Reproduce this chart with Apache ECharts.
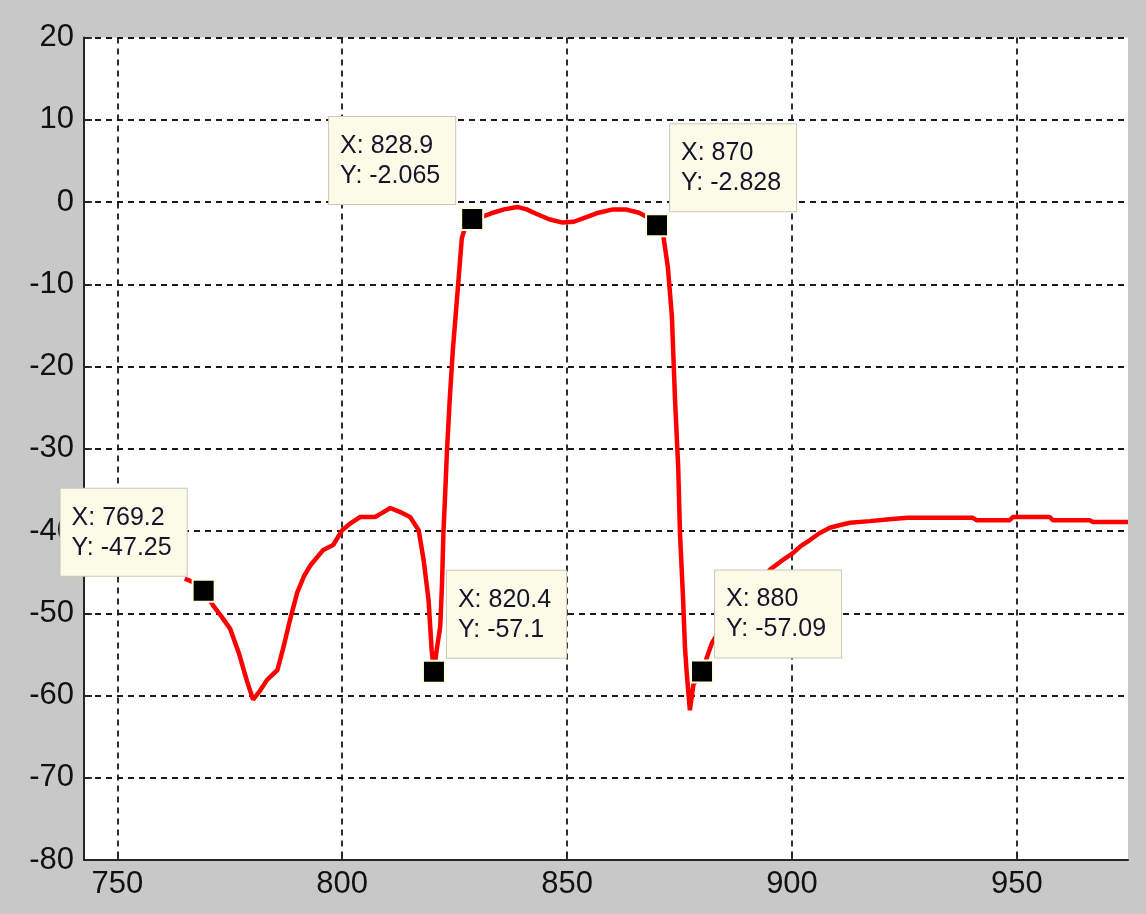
<!DOCTYPE html>
<html>
<head>
<meta charset="utf-8">
<script src="https://cdn.jsdelivr.net/npm/echarts@6/dist/echarts.min.js"></script>
<style>
html,body{margin:0;padding:0;background:#c8c8c8;}
#chart{width:1146px;height:914px;}
</style>
</head>
<body>
<div id="chart"></div>
<script>
// ---- data ----
const xs = [765.0, 767.3, 769.2, 771.5, 773.3, 775.1, 777.0, 778.8, 780.2, 781.5, 783.3, 785.6, 787.0, 788.4, 790.0, 791.5, 792.9, 795.8, 798.0, 800.0, 802.0, 804.0, 807.3, 808.9, 810.7, 812.9, 815.1, 817.0, 818.1, 819.2, 819.9, 820.4, 821.0, 821.8, 822.2, 822.5, 822.9, 823.3, 823.9, 824.6, 825.8, 826.6, 827.6, 828.9, 831.0, 833.0, 836.0, 838.9, 841.0, 843.0, 846.0, 849.0, 851.5, 854.0, 857.0, 860.2, 863.0, 866.0, 868.0, 870.0, 871.3, 872.4, 873.3, 874.0, 874.7, 875.1, 875.8, 876.2, 876.6, 877.3, 878.1, 879.1, 880.0, 881.0, 882.2, 883.0, 885.0, 888.0, 891.0, 893.0, 895.1, 897.5, 900.2, 902.0, 904.0, 906.0, 908.4, 910.5, 912.9, 917.3, 921.1, 925.6, 930.0, 935.0, 940.2, 941.1, 948.4, 949.1, 957.3, 958.0, 966.2, 966.9, 974.7];
const ys = [-45.8, -46.3, -47.25, -49.2, -50.5, -51.9, -54.8, -58.2, -60.5, -59.6, -58.1, -56.9, -54.0, -50.8, -47.5, -45.5, -44.2, -42.3, -41.7, -39.9, -39.0, -38.3, -38.3, -37.8, -37.2, -37.7, -38.3, -39.9, -43.5, -48.4, -54.5, -57.1, -54.5, -51.6, -46.3, -40.3, -35.4, -30.2, -24.1, -18.0, -9.9, -4.4, -2.6, -2.065, -1.8, -1.4, -0.9, -0.6, -0.9, -1.4, -2.1, -2.5, -2.4, -1.9, -1.3, -0.9, -0.9, -1.3, -1.9, -2.828, -3.8, -7.9, -13.9, -24.1, -32.2, -40.3, -48.4, -54.1, -57.3, -61.8, -58.6, -58.0, -57.09, -55.5, -53.6, -52.9, -51.5, -49.5, -47.3, -46.0, -44.7, -43.7, -42.7, -41.8, -41.1, -40.3, -39.6, -39.3, -39.0, -38.8, -38.6, -38.4, -38.4, -38.4, -38.4, -38.7, -38.7, -38.3, -38.3, -38.7, -38.7, -38.9, -38.9];

const tipX = [769.2, 828.9, 870, 820.4, 880];
const tipY = [-47.25, -2.065, -2.828, -57.1, -57.09];

const xTicks = [750, 800, 850, 900, 950];

// ---- layout/style (not data) ----
const tipSide = ['left', 'left', 'right', 'right', 'right'];
const X_MIN = 742.6, X_MAX = 974.7;
const TIP_FONT = 25, TIP_FAMILY = 'Liberation Sans, Arial, sans-serif';
const TIP_PAD = [14, 15, 13, 11];

const chart = echarts.init(document.getElementById('chart'));
const lineData = xs.map((x, i) => [x, ys[i]]);

const ctx = document.createElement('canvas').getContext('2d');
ctx.font = TIP_FONT + 'px ' + TIP_FAMILY;
function boxWidth(lines) {
  return Math.max.apply(null, lines.map(s => ctx.measureText(s).width)) + TIP_PAD[1] + TIP_PAD[3] + 2;
}

const gridLine = { show: true, lineStyle: { color: '#1a1a1a', width: 1.8, type: [6, 5] } };
const axisFont = { color: '#111', fontSize: 31, fontFamily: 'Liberation Sans, Arial, sans-serif' };

const markData = tipX.map((x, i) => {
  const left = tipSide[i] === 'left';
  const lines = ['X: ' + String(x), 'Y: ' + String(tipY[i])];
  const w = boxWidth(lines);
  return {
    coord: [x, tipY[i]],
    value: tipY[i],
    label: {
      show: true,
      formatter: lines.join('\n'),
      position: left ? [-3 - w, -3] : [25, -2],
      align: 'left',
      verticalAlign: 'bottom'
    }
  };
});

chart.setOption({
  backgroundColor: '#c8c8c8',
  animation: false,
  grid: { left: 84, right: 18, top: 37.5, bottom: 54, show: true, backgroundColor: '#ffffff', borderWidth: 0 },
  xAxis: {
    type: 'value', min: X_MIN, max: X_MAX,
    axisLine: { show: true, onZero: false, lineStyle: { color: '#262626', width: 2 } },
    axisTick: { show: true, inside: true, length: 8, customValues: xTicks, lineStyle: { color: '#262626', width: 1.8 } },
    axisLabel: Object.assign({ margin: 9, customValues: xTicks, formatter: v => String(v) }, axisFont),
    splitLine: gridLine
  },
  yAxis: {
    type: 'value', min: -80, max: 20, interval: 10,
    axisLine: { show: true, onZero: false, lineStyle: { color: '#262626', width: 2 } },
    axisTick: { show: true, inside: true, length: 8, lineStyle: { color: '#262626', width: 1.8 } },
    axisLabel: Object.assign({ margin: 10 }, axisFont),
    splitLine: gridLine
  },
  series: [{
    type: 'line',
    data: lineData,
    showSymbol: false,
    smooth: false,
    clip: true,
    lineStyle: { color: '#ff0000', width: 4.5 },
    z: 3,
    markPoint: {
      symbol: 'rect',
      symbolSize: 22,
      itemStyle: { color: '#000000', borderColor: '#ffffe0', borderWidth: 2 },
      label: {
        color: '#15152a',
        fontSize: TIP_FONT,
        lineHeight: 30,
        fontFamily: TIP_FAMILY,
        backgroundColor: '#fbfbe8',
        borderColor: '#c9c9bb',
        borderWidth: 1,
        padding: TIP_PAD
      },
      data: markData
    }
  }]
});
</script>
</body>
</html>
